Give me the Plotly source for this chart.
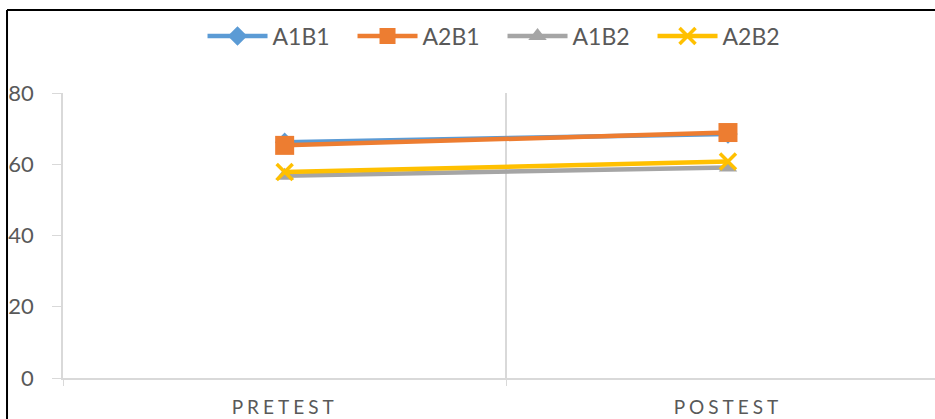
import plotly.graph_objects as go

categories = ["PRETEST", "POSTEST"]
series_names = ["A1B1", "A2B1", "A1B2", "A2B2"]
a1b1 = [66.2, 68.5]
a2b1 = [65.3, 68.9]
a1b2 = [56.8, 59.1]
a2b2 = [57.8, 60.8]
y_ticks = [0, 20, 40, 60, 80]

colors = ["#5B9BD5", "#ED7D31", "#A5A5A5", "#FFC000"]
symbols = ["diamond", "square", "triangle-up", "x-thin"]
sizes = [15, 19, 16, 16]

fig = go.Figure()
for name, vals, c, s, sz in zip(series_names, [a1b1, a2b1, a1b2, a2b2], colors, symbols, sizes):
    mk = dict(symbol=s, size=sz, color=c)
    if s == "x-thin":
        mk["line"] = dict(width=3.5, color=c)
    fig.add_trace(go.Scatter(
        x=categories, y=vals, name=name, mode="lines+markers",
        line=dict(color=c, width=4.5), marker=mk,
    ))

grid = "#D9D9D9"
txt = "#595959"
fig.update_layout(
    width=935, height=419,
    margin=dict(l=63, r=0, t=93, b=41, autoexpand=False),
    paper_bgcolor="white", plot_bgcolor="white",
    font=dict(family="Lato, 'Open Sans', sans-serif", color=txt, size=21),
    showlegend=True,
    legend=dict(
        orientation="h", x=0.16, xanchor="left", y=1.2, yanchor="middle",
        font=dict(size=23, color=txt), entrywidth=75, entrywidthmode="pixels",
        itemwidth=60, bgcolor="rgba(0,0,0,0)",
    ),
    xaxis=dict(
        type="category", range=[-0.5, 1.467], tickson="boundaries",
        showgrid=True, gridcolor=grid, gridwidth=1.5,
        showline=True, linecolor=grid, linewidth=1.5,
        ticks="outside", ticklen=6, tickcolor=grid,
        tickfont=dict(size=19, color=txt), ticklabelstandoff=11,
        zeroline=False,
    ),
    yaxis=dict(
        range=[0, 80], tickvals=y_ticks, showgrid=False,
        showline=True, linecolor=grid, linewidth=1.5,
        ticks="outside", ticklen=9, tickcolor=grid,
        tickfont=dict(size=22, color=txt), ticklabelstandoff=14,
        zeroline=False,
    ),
    shapes=[
        dict(type="line", xref="paper", yref="paper", x0=-0.0642, x1=1.2, y0=1.2912, y1=1.2912,
             line=dict(color="black", width=2)),
        dict(type="line", xref="paper", yref="paper", x0=-0.0642, x1=-0.0642, y0=1.2912, y1=-0.5,
             line=dict(color="black", width=2)),
    ],
)

fig.write_html(
    "out.html",
    post_script="document.querySelectorAll('.xtick text').forEach(function(t){t.style.letterSpacing='4px';});",
)
